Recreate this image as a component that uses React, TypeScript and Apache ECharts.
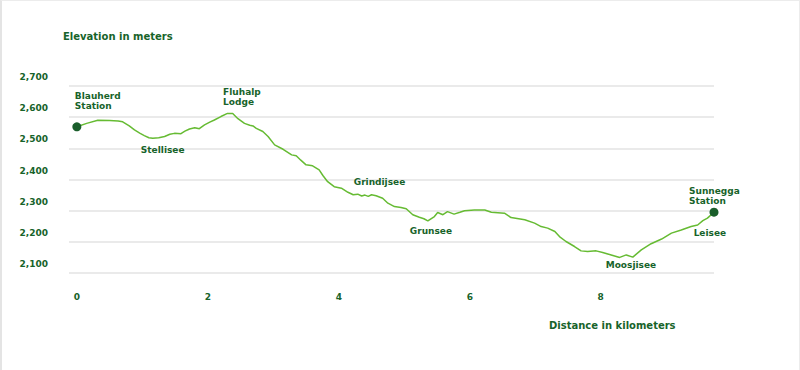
import React, { useEffect, useRef } from 'react';
import * as echarts from 'echarts';

// Trail profile: distance along the trail (km) and elevation (m)
const distanceKm = [
  0.0, 0.15, 0.32, 0.5, 0.63, 0.7, 0.8, 0.88, 0.96, 1.03, 1.1, 1.16, 1.25, 1.34, 1.42, 1.49, 1.59, 1.65, 1.72, 1.8,
  1.87, 1.95, 2.03, 2.1, 2.2, 2.3, 2.38, 2.46, 2.56, 2.64, 2.69, 2.74, 2.84, 2.92, 3.02, 3.15, 3.28, 3.35, 3.42, 3.5,
  3.6, 3.7, 3.76, 3.83, 3.93, 4.04, 4.14, 4.22, 4.29, 4.35, 4.4, 4.45, 4.5, 4.57, 4.67, 4.75, 4.85, 4.95, 5.03, 5.13,
  5.23, 5.3, 5.36, 5.46, 5.51, 5.59, 5.66, 5.76, 5.85, 5.92, 6.07, 6.23, 6.33, 6.53, 6.63, 6.84, 6.99, 7.09, 7.19, 7.3,
  7.37, 7.47, 7.6, 7.7, 7.8, 7.93, 8.03, 8.16, 8.29, 8.39, 8.49, 8.62, 8.77, 8.93, 9.08, 9.23, 9.38, 9.48, 9.56, 9.63,
  9.73,
];
const elevationM = [
  2569, 2580, 2590, 2589, 2588, 2585, 2572, 2559, 2549, 2541, 2534, 2532, 2534, 2538, 2545, 2548, 2547, 2555, 2562, 2566,
  2563, 2575, 2584, 2591, 2602, 2612, 2612, 2595, 2580, 2574, 2572, 2564, 2554, 2538, 2511, 2497, 2479, 2476, 2462, 2447,
  2444, 2431, 2412, 2393, 2377, 2372, 2359, 2351, 2353, 2347, 2350, 2346, 2351, 2348, 2340, 2324, 2313, 2310, 2306, 2287,
  2279, 2274, 2267, 2281, 2294, 2287, 2297, 2289, 2295, 2300, 2302, 2302, 2295, 2292, 2278, 2271, 2260, 2249, 2244, 2233,
  2217, 2201, 2185, 2171, 2169, 2171, 2166, 2158, 2150, 2158, 2151, 2174, 2194, 2209, 2228, 2238, 2249, 2254, 2268, 2276,
  2295,
];

// Axis ticks
const yTickValues = [2100, 2200, 2300, 2400, 2500, 2600, 2700];
const xTickValues = [0, 2, 4, 6, 8];

// Landmarks along the trail
const landmarkNames = [
  'Blauherd\nStation',
  'Stellisee',
  'Fluhalp\nLodge',
  'Grindijsee',
  'Grunsee',
  'Moosjisee',
  'Leisee',
  'Sunnegga\nStation',
];
const landmarkKm = [0.0, 1.16, 2.34, 4.29, 5.36, 8.29, 9.48, 9.73];
const landmarkElev = [2569, 2532, 2612, 2353, 2267, 2150, 2254, 2295];

// Label placement (pixels, relative to the landmark point) - styling only
const labelOffsets: [number, number][] = [
  [-2, -26],
  [-12, 12],
  [-7, -16],
  [-4, -12],
  [-18, 10],
  [-14, 8],
  [-4, 8],
  [-25, -16],
];

const GREEN_TEXT = '#17632a';
const GREEN_LINE = '#66bb33';
const FONT = '"DejaVu Sans", Verdana, sans-serif';

function fmtThousands(v: number) {
  return String(v).replace(/\B(?=(\d{3})+(?!\d))/g, ',');
}

export default function App() {
  const ref = useRef<HTMLDivElement>(null);

  useEffect(() => {
    if (!ref.current) return;
    const chart = echarts.init(ref.current, null, { renderer: 'svg' });

    const profile = distanceKm.map((d, i) => [d, elevationM[i]]);
    const last = distanceKm.length - 1;
    const stations = [
      [distanceKm[0], elevationM[0]],
      [distanceKm[last], elevationM[last]],
    ];
    const landmarks = landmarkNames.map((name, i) => ({
      name,
      value: [landmarkKm[i], landmarkElev[i]],
      label: { offset: labelOffsets[i] },
    }));

    chart.setOption({
      animation: false,
      backgroundColor: '#ffffff',
      textStyle: { fontFamily: FONT },
      title: [
        {
          text: 'Elevation in meters',
          left: 63,
          top: 31,
          padding: 0,
          textStyle: { color: GREEN_TEXT, fontSize: 10, fontWeight: 'bold', fontFamily: FONT },
        },
        {
          text: 'Distance in kilometers',
          left: 549,
          top: 320,
          padding: 0,
          textStyle: { color: GREEN_TEXT, fontSize: 10, fontWeight: 'bold', fontFamily: FONT },
        },
      ],
      grid: { left: 69, right: 86, top: 86, bottom: 97 },
      xAxis: {
        type: 'value',
        min: -0.12,
        max: 9.73,
        axisLine: { show: false },
        axisTick: { show: false },
        splitLine: { show: false },
        axisLabel: {
          customValues: xTickValues,
          margin: 19,
          color: GREEN_TEXT,
          fontSize: 9,
          fontWeight: 'bold',
          fontFamily: FONT,
        },
      },
      yAxis: {
        type: 'value',
        min: yTickValues[0],
        max: yTickValues[yTickValues.length - 1],
        interval: 100,
        axisLine: { show: false },
        axisTick: { show: false },
        splitLine: { show: true, lineStyle: { color: '#e3e3e3', width: 1.5 } },
        axisLabel: {
          margin: 21,
          color: GREEN_TEXT,
          fontSize: 9,
          fontWeight: 'bold',
          fontFamily: FONT,
          verticalAlign: 'bottom',
          lineHeight: 18,
          formatter: (v: number) => fmtThousands(v),
        },
      },
      series: [
        {
          type: 'line',
          data: profile,
          showSymbol: false,
          symbol: 'none',
          silent: true,
          lineStyle: { color: GREEN_LINE, width: 1.5 },
          z: 2,
        },
        {
          type: 'scatter',
          data: stations,
          symbol: 'circle',
          symbolSize: 9,
          silent: true,
          itemStyle: { color: '#1a5e2b', opacity: 1 },
          z: 3,
        },
        {
          type: 'scatter',
          data: landmarks,
          symbolSize: 0,
          silent: true,
          itemStyle: { color: 'rgba(0,0,0,0)', opacity: 1 },
          label: {
            show: true,
            position: 'inside',
            align: 'left',
            verticalAlign: 'middle',
            formatter: '{b}',
            color: GREEN_TEXT,
            opacity: 1,
            textBorderWidth: 0,
            textBorderColor: 'transparent',
            fontSize: 9,
            fontWeight: 'bold',
            fontFamily: FONT,
            lineHeight: 10,
          },
          z: 4,
        },
      ],
    });

    return () => chart.dispose();
  }, []);

  return (
    <>
      <div
        ref={ref}
        style={{ position: 'fixed', left: 0, top: 0, width: 800, height: 370, background: '#fff' }}
      />
      <div
        style={{
          position: 'fixed',
          left: 0,
          top: 0,
          width: 800,
          height: 370,
          boxSizing: 'border-box',
          borderLeft: '2px solid #e4e4e4',
          borderTop: '1px solid #ececec',
          borderRight: '1px solid #ececec',
          pointerEvents: 'none',
        }}
      />
    </>
  );
}
